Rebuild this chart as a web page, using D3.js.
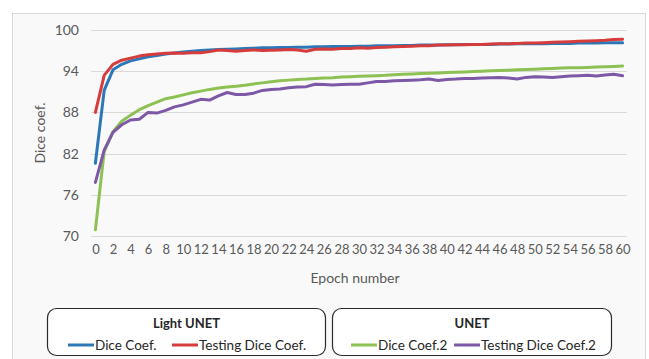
<!DOCTYPE html>
<html><head><meta charset="utf-8">
<script src="https://cdn.jsdelivr.net/npm/d3@7"></script>
<style>html,body{margin:0;padding:0;background:#fff;}svg{display:block;}</style>
</head><body>
<script>
const epochs = d3.range(0, 61);
const xTickLabels = d3.range(0, 61, 2);
const yTicks = [70, 76, 82, 88, 94, 100];

const diceLight = [80.6,91.2,94.2,95.0,95.5,95.8,96.1,96.3,96.5,96.65,96.8,96.9,97.0,97.1,97.15,97.2,97.25,97.3,97.35,97.4,97.4,97.45,97.45,97.5,97.5,97.55,97.55,97.6,97.6,97.6,97.65,97.65,97.7,97.7,97.7,97.75,97.75,97.8,97.8,97.8,97.85,97.85,97.9,97.9,97.9,97.9,97.95,97.95,98.0,98.0,98.0,98.0,98.05,98.05,98.05,98.1,98.1,98.1,98.15,98.15,98.15];
const testLight = [88.0,93.4,95.0,95.6,95.9,96.2,96.4,96.5,96.6,96.65,96.6,96.7,96.7,96.85,97.1,97.0,96.9,97.0,97.1,97.0,97.05,97.1,97.15,97.1,96.9,97.2,97.25,97.2,97.3,97.3,97.4,97.35,97.45,97.5,97.55,97.6,97.65,97.7,97.7,97.8,97.8,97.85,97.85,97.9,97.9,97.95,98.0,98.0,98.05,98.1,98.1,98.15,98.2,98.25,98.3,98.35,98.4,98.45,98.5,98.6,98.65];
const diceUnet = [70.9,82.3,85.2,86.7,87.6,88.4,89.0,89.5,90.0,90.25,90.55,90.85,91.1,91.35,91.55,91.7,91.8,91.95,92.15,92.3,92.45,92.6,92.7,92.8,92.85,92.95,93.0,93.05,93.15,93.2,93.25,93.3,93.35,93.4,93.5,93.55,93.6,93.65,93.7,93.75,93.8,93.85,93.9,93.95,94.0,94.05,94.1,94.15,94.2,94.25,94.3,94.35,94.4,94.45,94.5,94.5,94.55,94.6,94.65,94.7,94.75];
const testUnet = [77.8,82.5,85.1,86.2,86.9,87.0,88.0,87.9,88.3,88.8,89.1,89.5,89.9,89.8,90.4,90.9,90.6,90.6,90.8,91.2,91.35,91.4,91.6,91.7,91.75,92.1,92.05,92.0,92.05,92.1,92.1,92.3,92.5,92.5,92.6,92.65,92.7,92.75,92.85,92.65,92.8,92.85,92.95,92.95,93.0,93.05,93.1,93.0,92.85,93.1,93.2,93.15,93.1,93.2,93.3,93.35,93.4,93.3,93.45,93.55,93.35];

const seriesNames = ["Dice Coef.", "Testing Dice Coef.", "Dice Coef.2", "Testing Dice Coef.2"];
const groupTitles = ["Light UNET", "UNET"];
const colors = ["#2c77b8", "#d63c3c", "#8dc153", "#7d58a6"];
const seriesData = [diceLight, testLight, diceUnet, testUnet];

const W = 649, H = 359;
const font = "Lato, 'Open Sans', sans-serif";
const svg = d3.select("body").append("svg").attr("width", W).attr("height", H);

svg.append("rect").attr("x", 12.5).attr("y", 13.5).attr("width", 633).attr("height", 360)
  .attr("fill", "#f9f9f9").attr("stroke", "#d9d9d9").attr("stroke-width", 1);

const x = d3.scalePoint().domain(epochs).range([91, 627]).padding(0.5);
const y = d3.scaleLinear().domain([70, 100]).range([236, 30]);

// gridlines
svg.append("g").selectAll("line").data(yTicks).join("line")
  .attr("x1", 91).attr("x2", 627)
  .attr("y1", d => Math.round(y(d)) + 0.5).attr("y2", d => Math.round(y(d)) + 0.5)
  .attr("stroke", "#d9d9d9").attr("stroke-width", 1);

// y axis
const yAxis = d3.axisLeft(y).tickValues(yTicks).tickSize(0).tickPadding(0);
const gy = svg.append("g").attr("transform", "translate(79,0)").call(yAxis);
gy.select(".domain").remove();
gy.selectAll("text").attr("fill", "#595959").style("font-family", font).style("font-size", "14px");

// x axis
const xAxis = d3.axisBottom(x).tickValues(xTickLabels).tickSize(0).tickPadding(0);
const gx = svg.append("g").attr("transform", "translate(0,245)").call(xAxis);
gx.select(".domain").remove();
gx.selectAll("text").attr("fill", "#595959").style("font-family", font).style("font-size", "13px").attr("dy", "0.71em");

// axis titles
svg.append("text").attr("x", 355).attr("y", 283).attr("text-anchor", "middle")
  .attr("fill", "#595959").style("font-family", font).style("font-size", "14px").text("Epoch number");
svg.append("text").attr("transform", "translate(45,133) rotate(-90)").attr("text-anchor", "middle")
  .attr("fill", "#595959").style("font-family", font).style("font-size", "14px").text("Dice coef.");

// lines
const line = d3.line().x((d, i) => x(epochs[i])).y(d => y(d));
seriesData.forEach((s, k) => {
  svg.append("path").datum(s).attr("d", line).attr("fill", "none")
    .attr("stroke", colors[k]).attr("stroke-width", 3).attr("stroke-linejoin", "round").attr("stroke-linecap", "round");
});

// legend
const boxes = [
  {x: 47.5, w: 278, title: groupTitles[0], items: [{i:0, lx:68, tx:95}, {i:1, lx:172, tx:199}]},
  {x: 332.5, w: 279, title: groupTitles[1], items: [{i:2, lx:351, tx:378}, {i:3, lx:454, tx:481}]}
];
boxes.forEach(b => {
  svg.append("rect").attr("x", b.x).attr("y", 308.5).attr("width", b.w).attr("height", 47)
    .attr("rx", 9).attr("ry", 9).attr("fill", "#fff").attr("stroke", "#2b2b2b").attr("stroke-width", 1.2);
  svg.append("text").attr("x", b.x + b.w / 2).attr("y", 328).attr("text-anchor", "middle")
    .attr("fill", "#262626").style("font-family", font).style("font-weight", "bold").style("font-size", "13px").text(b.title);
  b.items.forEach(it => {
    svg.append("line").attr("x1", it.lx).attr("x2", it.lx + 26).attr("y1", 345).attr("y2", 345)
      .attr("stroke", colors[it.i]).attr("stroke-width", 3);
    svg.append("text").attr("x", it.tx).attr("y", 350).attr("fill", "#262626")
      .style("font-family", font).style("font-size", "13.5px").text(seriesNames[it.i]);
  });
});
</script>
</body></html>
